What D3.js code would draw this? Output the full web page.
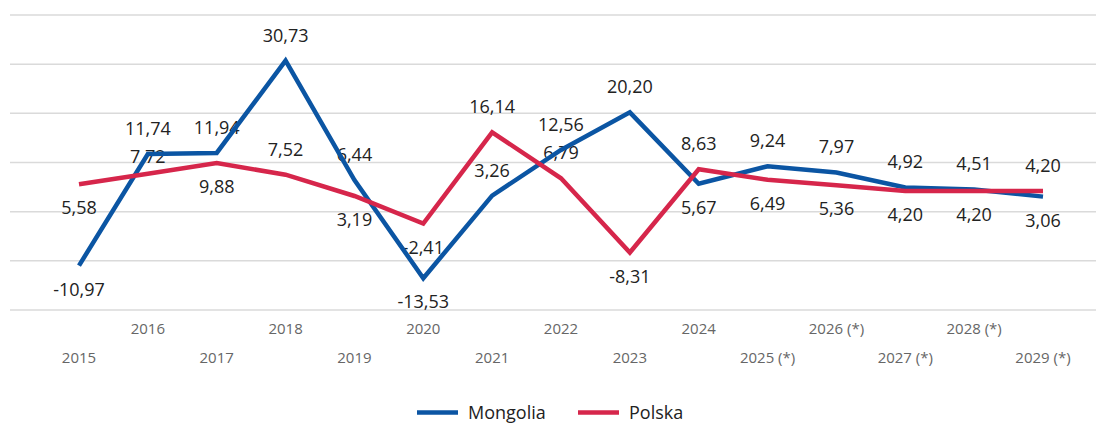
<!DOCTYPE html>
<html>
<head>
<meta charset="utf-8">
<script src="https://cdn.jsdelivr.net/npm/d3@7"></script>
<style>
  html, body { margin: 0; padding: 0; background: #fff; }
  svg { display: block; font-family: "Open Sans", "Noto Sans", sans-serif; }
</style>
</head>
<body>
<svg id="chart" width="1096" height="424"></svg>
<script>
const years = ["2015","2016","2017","2018","2019","2020","2021","2022","2023","2024","2025 (*)","2026 (*)","2027 (*)","2028 (*)","2029 (*)"];
const mongolia = [-10.97, 11.74, 11.94, 30.73, 6.44, -13.53, 3.26, 12.56, 20.20, 5.67, 9.24, 7.97, 4.92, 4.51, 3.06];
const polska   = [5.58, 7.72, 9.88, 7.52, 3.19, -2.41, 16.14, 6.79, -8.31, 8.63, 6.49, 5.36, 4.20, 4.20, 4.20];
const mongoliaLabelSide = ["below","above","above","above","above","below","above","above","above","below","above","above","above","above","below"];
const polskaLabelSide   = ["below","near","below","above","below","below","above","above","below","above","below","below","below","below","above"];
const yTicks = [-20, -10, 0, 10, 20, 30, 40];
const seriesNames = ["Mongolia", "Polska"];
const seriesColors = ["#0b55a3", "#d6264b"];

const svg = d3.select("#chart");
const x = d3.scalePoint().domain(years).range([79, 1043]);
const y = d3.scaleLinear().domain([-20, 40]).range([310, 15]);

// gridlines
svg.append("g").selectAll("line").data(yTicks).join("line")
  .attr("x1", 10).attr("x2", 1096)
  .attr("y1", d => y(d)).attr("y2", d => y(d))
  .attr("stroke", "#dadada").attr("stroke-width", 1.5);

// x-axis labels (staggered)
svg.append("g").selectAll("text").data(years).join("text")
  .attr("x", d => x(d))
  .attr("y", (d, i) => i % 2 === 1 ? 334 : 362.5)
  .attr("text-anchor", "middle")
  .attr("font-size", 15)
  .attr("fill", "#666")
  .text(d => d);

const fmt = v => v.toFixed(2).replace(".", ",");
const series = [
  { name: seriesNames[0], values: mongolia, sides: mongoliaLabelSide, color: seriesColors[0] },
  { name: seriesNames[1], values: polska, sides: polskaLabelSide, color: seriesColors[1] }
];

const offset = { above: -19, near: -11, below: 30 };

// value labels (drawn beneath the lines, as in the reference)
series.forEach(s => {
  svg.append("g").selectAll("text").data(s.values).join("text")
    .attr("x", (d, i) => x(years[i]))
    .attr("y", (d, i) => y(d) + offset[s.sides[i]])
    .attr("text-anchor", "middle")
    .attr("font-size", 18)
    .attr("fill", "#222")
    .text(d => fmt(d));
});

const line = d3.line().x((d, i) => x(years[i])).y(d => y(d));

series.forEach(s => {
  svg.append("path")
    .attr("d", line(s.values))
    .attr("fill", "none")
    .attr("stroke", s.color)
    .attr("stroke-width", 4.5)
    .attr("stroke-linejoin", "miter")
    .attr("stroke-linecap", "butt");
});

// legend
const legend = svg.append("g");
const legendX = [417, 578];
series.forEach((s, i) => {
  legend.append("line")
    .attr("x1", legendX[i]).attr("x2", legendX[i] + 41)
    .attr("y1", 412.5).attr("y2", 412.5)
    .attr("stroke", s.color).attr("stroke-width", 4.5);
  legend.append("text")
    .attr("x", legendX[i] + 51).attr("y", 419)
    .attr("font-size", 18)
    .attr("fill", "#222")
    .text(s.name);
});
</script>
</body>
</html>
